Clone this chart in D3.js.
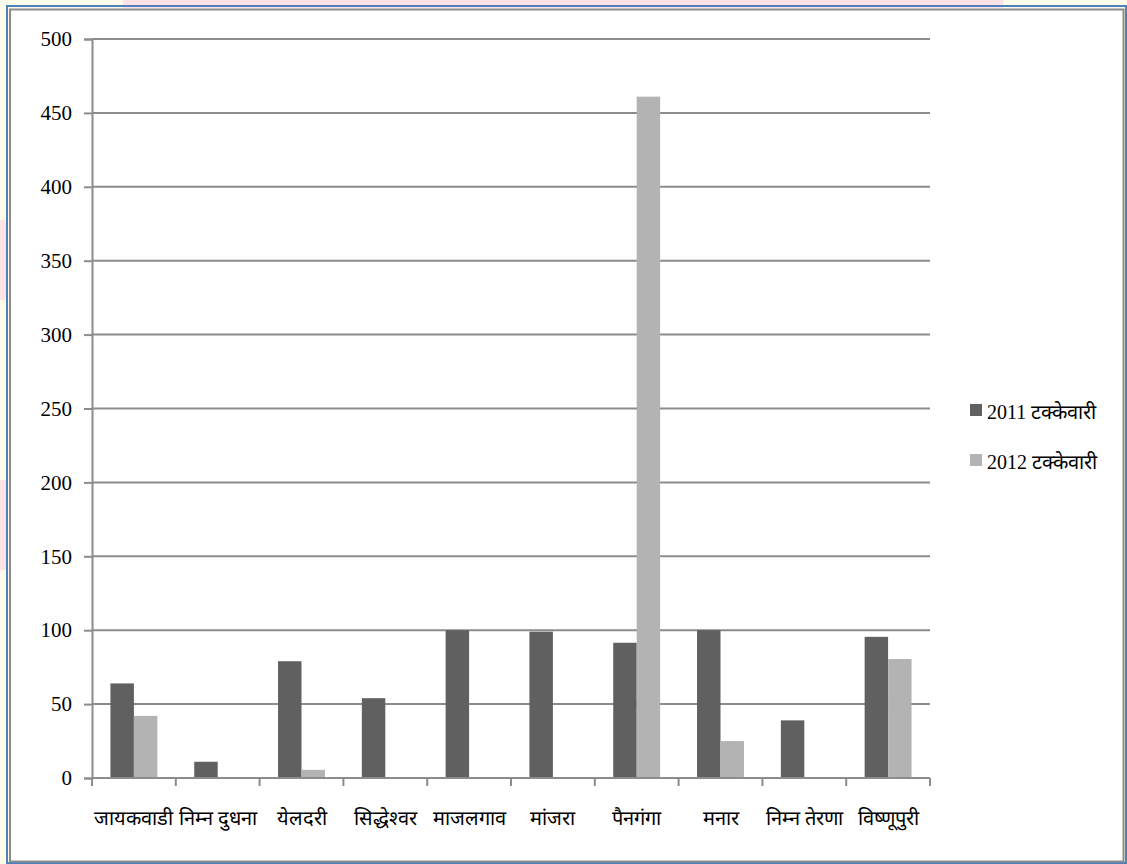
<!DOCTYPE html>
<html>
<head>
<meta charset="utf-8">
<style>
  body{ margin:0; padding:0; background:#fff; }
  svg{ display:block; }
  .serif{ font-family: "Liberation Serif", "Times New Roman", "DejaVu Serif", serif; }
</style>
<script src="https://d3js.org/d3.v7.min.js"></script>
</head>
<body>
<script>
// dam names and percentages
var categories = ["जायकवाडी", "निम्न दुधना", "येलदरी", "सिद्धेश्वर", "माजलगाव", "मांजरा", "पैनगंगा", "मनार", "निम्न तेरणा", "विष्णूपुरी"];
var series2011 = [64, 11, 79, 54, 100, 99, 91.5, 100, 39, 95.5];
var series2012 = [42, 0, 5.5, 0, 0, 0, 461, 25, 0, 80.5];
var seriesNames = ["2011 टक्केवारी", "2012 टक्केवारी"];
var yTicks = [0, 50, 100, 150, 200, 250, 300, 350, 400, 450, 500];

var W = 1127, H = 864;
var svg = d3.select("body").append("svg").attr("width", W).attr("height", H);

// pastel page background peeking outside the frame
svg.append("rect").attr("x",0).attr("y",0).attr("width",W).attr("height",H).attr("fill","#fffbea");
svg.append("rect").attr("x",123).attr("y",0).attr("width",880).attr("height",8).attr("fill","#fde3e6");
svg.append("rect").attr("x",0).attr("y",220).attr("width",8).attr("height",80).attr("fill","#fde3e6");
svg.append("rect").attr("x",0).attr("y",480).attr("width",8).attr("height",90).attr("fill","#fde3e6");

// frame
svg.append("rect").attr("x",7).attr("y",6).attr("width",1119).attr("height",857)
  .attr("fill","none").attr("stroke","#4f81bd").attr("stroke-width",2);
svg.append("rect").attr("x",10).attr("y",9.5).attr("width",1113.5).attr("height",852)
  .attr("fill","#fff").attr("stroke","#8c8c8c").attr("stroke-width",2);

var plotLeft = 92, plotRight = 930, plotTop = 39, plotBottom = 778;

var x = d3.scaleBand().domain(categories).range([plotLeft, plotRight]).paddingInner(0.44).paddingOuter(0.22);
var xs = d3.scaleBand().domain([0, 1]).range([0, x.bandwidth()]);
var y = d3.scaleLinear().domain([0, 500]).range([plotBottom, plotTop]);

// gridlines
svg.append("g").selectAll("line").data(yTicks).join("line")
  .attr("x1", plotLeft).attr("x2", plotRight)
  .attr("y1", d => y(d)).attr("y2", d => y(d))
  .attr("stroke", "#8c8c8c").attr("stroke-width", 2);

// bars
var colors = ["#606060", "#b3b3b3"];
[series2011, series2012].forEach(function(vals, s) {
  svg.append("g").selectAll("rect").data(vals).join("rect")
    .attr("x", (d, i) => x(categories[i]) + xs(s))
    .attr("y", d => y(d))
    .attr("width", xs.bandwidth())
    .attr("height", d => plotBottom - y(d))
    .attr("fill", colors[s]);
});

// y axis
var yAxis = svg.append("g").attr("transform", "translate(" + plotLeft + ",0)")
  .call(d3.axisLeft(y).tickValues(yTicks).tickSize(8).tickPadding(12));
yAxis.attr("font-family", null);
yAxis.select(".domain").attr("stroke", "#8c8c8c").attr("stroke-width", 2);
yAxis.selectAll(".tick line").attr("stroke", "#8c8c8c").attr("stroke-width", 2);
yAxis.selectAll("text").attr("class", "serif")
  .attr("font-size", 21).attr("fill", "#000");

// x axis line + boundary ticks
var step = (plotRight - plotLeft) / categories.length;
svg.append("line").attr("x1", plotLeft).attr("x2", plotRight).attr("y1", plotBottom).attr("y2", plotBottom)
  .attr("stroke", "#8c8c8c").attr("stroke-width", 2);
svg.append("g").selectAll("line").data(d3.range(categories.length + 1)).join("line")
  .attr("x1", i => plotLeft + i * step).attr("x2", i => plotLeft + i * step)
  .attr("y1", plotBottom).attr("y2", plotBottom + 8)
  .attr("stroke", "#8c8c8c").attr("stroke-width", 2);

svg.append("g").selectAll("text").data(categories).join("text")
  .attr("class", "serif")
  .attr("x", d => x(d) + x.bandwidth() / 2)
  .attr("y", 825)
  .attr("text-anchor", "middle")
  .attr("font-size", 20).attr("fill", "#000")
  .text(d => d);

// legend
var legend = svg.append("g");
seriesNames.forEach(function(name, i) {
  var ly = 404 + i * 50;
  legend.append("rect").attr("x", 970).attr("y", ly).attr("width", 12).attr("height", 12).attr("fill", colors[i]);
  legend.append("text").attr("class", "serif").attr("x", 987).attr("y", ly + 15)
    .attr("font-size", 20).attr("fill", "#000").text(name);
});
</script>
</body>
</html>
